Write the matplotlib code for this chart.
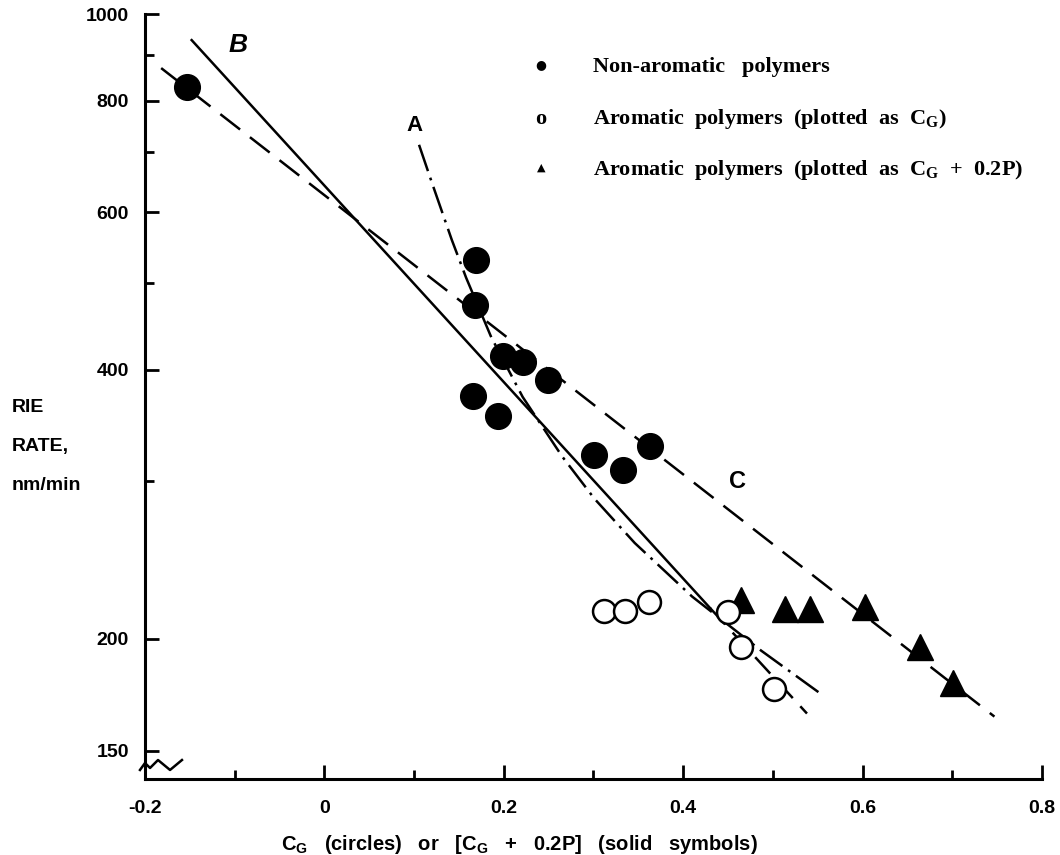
import numpy as np
import matplotlib.pyplot as plt
from matplotlib.ticker import NullFormatter

plt.rcParams['font.family'] = 'Liberation Sans'
plt.rcParams['font.weight'] = 'bold'
plt.rcParams['lines.scale_dashes'] = False
plt.rcParams['mathtext.fontset'] = 'custom'
plt.rcParams['mathtext.rm'] = 'Liberation Serif:bold'
plt.rcParams['mathtext.sf'] = 'Liberation Sans:bold'

# non-aromatic polymers (solid circles)
nonarom_x = [-0.153, 0.169, 0.168, 0.199, 0.221, 0.249, 0.166, 0.193, 0.301, 0.333, 0.363]
nonarom_y = [828, 530, 473, 414, 408, 390, 374, 355, 321, 309, 329]
# aromatic polymers plotted as CG (open circles)
arom_x = [0.312, 0.335, 0.362, 0.450, 0.465, 0.501]
arom_y = [215, 215, 220, 214.5, 195.6, 175.7]
# aromatic polymers plotted as CG + 0.2P (triangles)
arom_p_x = [0.465, 0.513, 0.541, 0.603, 0.664, 0.701]
arom_p_y = [221, 216, 216, 217, 195.7, 178.7]

# curves A, B, C
line_a_x = [0.1055, 0.120, 0.142, 0.158, 0.186, 0.221, 0.265, 0.301, 0.346, 0.410, 0.487, 0.552]
line_a_y = [714, 647, 559, 507, 435, 373, 320, 287, 256, 223, 194, 174]
line_b_x = [-0.148, 0.43]
line_b_y = [935, 216.5]
line_b_ext_x = [0.43, 0.538]
line_b_ext_y = [216.5, 165]
line_c_x = [-0.182, 0.747]
line_c_y = [870, 163.7]

x_major = [-0.2, 0, 0.2, 0.4, 0.6, 0.8]
x_labels = ['-0.2', '0', '0.2', '0.4', '0.6', '0.8']
x_minor = [-0.1, 0.1, 0.3, 0.5, 0.7]
y_major = [150, 200, 400, 600, 800, 1000]
y_labels = ['150', '200', '400', '600', '800', '1000']
y_minor = [300, 500, 700, 900]

fig = plt.figure(figsize=(10.6, 8.55), dpi=100)
ax = fig.add_axes([0.1368, 0.0889, 0.8462, 0.8947])

ax.plot(line_b_x, line_b_y, color='k', lw=1.8)
ax.plot(line_b_ext_x, line_b_ext_y, color='k', lw=1.8, dashes=(16, 8))
ax.plot(line_c_x, line_c_y, color='k', lw=1.8, dashes=(18, 9))
ax.plot(line_a_x, line_a_y, color='k', lw=1.8, dashes=(20, 5, 2, 5))

ax.plot(arom_p_x, arom_p_y, '^', ms=19, color='k', zorder=3)
ax.plot(arom_x, arom_y, 'o', ms=16.5, mfc='white', mec='k', mew=1.8, zorder=4)
ax.plot(nonarom_x, nonarom_y, 'o', ms=18.5, color='k', zorder=5)

ax.text(0.1, 751, 'A', fontsize=16, ha='center', va='center')
ax.text(-0.096, 923, 'B', fontsize=19, style='italic', ha='center', va='center')
ax.text(0.461, 300, 'C', fontsize=17, ha='center', va='center')

ax.set_yscale('log')
ax.set_xlim(-0.2, 0.8)
ax.set_ylim(139.4, 1000)
ax.set_xticks(x_major, labels=x_labels)
ax.set_xticks(x_minor, minor=True)
ax.set_yticks(y_major, labels=y_labels)
ax.set_yticks(y_minor, minor=True)
ax.yaxis.set_minor_formatter(NullFormatter())

ax.spines['top'].set_visible(False)
ax.spines['right'].set_visible(False)
ax.spines['left'].set_linewidth(2.2)
ax.spines['bottom'].set_linewidth(2.2)
ax.tick_params(which='major', direction='in', length=10, width=2, labelsize=14)
ax.tick_params(which='minor', direction='in', length=6.5, width=2)
ax.tick_params(axis='x', which='major', pad=15)
ax.tick_params(axis='y', which='major', pad=11.5)

# axis break mark
ax.plot([-0.0056, 0, 0.0056, 0.0145, 0.0279, 0.0412],
        [0.0118, 0.0209, 0.0144, 0.0248, 0.0118, 0.0248],
        color='k', lw=1.8, transform=ax.transAxes, clip_on=False)

fig.text(0.0113, 1 - 408 / 855, 'RIE', fontsize=14, ha='left', va='center')
fig.text(0.0113, 1 - 447 / 855, 'RATE,', fontsize=14, ha='left', va='center')
fig.text(0.0113, 1 - 485 / 855, 'nm/min', fontsize=14, ha='left', va='center')

fig.text(0.4896, 0.0117,
         r'C$_{\mathsf{G}}$   (circles)   or   [C$_{\mathsf{G}}$   +   0.2P]   (solid   symbols)',
         fontsize=14.5, ha='center', va='center')

# legend drawn as text, like the original
serif = dict(family='Liberation Serif', weight='bold', fontsize=16, va='baseline')
fig.text(0.5104, 0.924, '\u25cf', family='DejaVu Sans', fontsize=9, ha='center', va='center')
fig.text(0.5594, 0.9158, 'Non-aromatic   polymers', **serif)
fig.text(0.5104, 0.855, 'o', ha='center', **serif)
fig.text(0.5594, 0.855, r'Aromatic  polymers  (plotted  as  C$_{\mathrm{G}}$)', **serif)
fig.text(0.5104, 0.8035, '\u25b2', family='DejaVu Sans', fontsize=8, ha='center', va='center')
fig.text(0.5594, 0.7953, r'Aromatic  polymers  (plotted  as  C$_{\mathrm{G}}$  +  0.2P)', **serif)

fig.savefig('out.png', dpi=100)
